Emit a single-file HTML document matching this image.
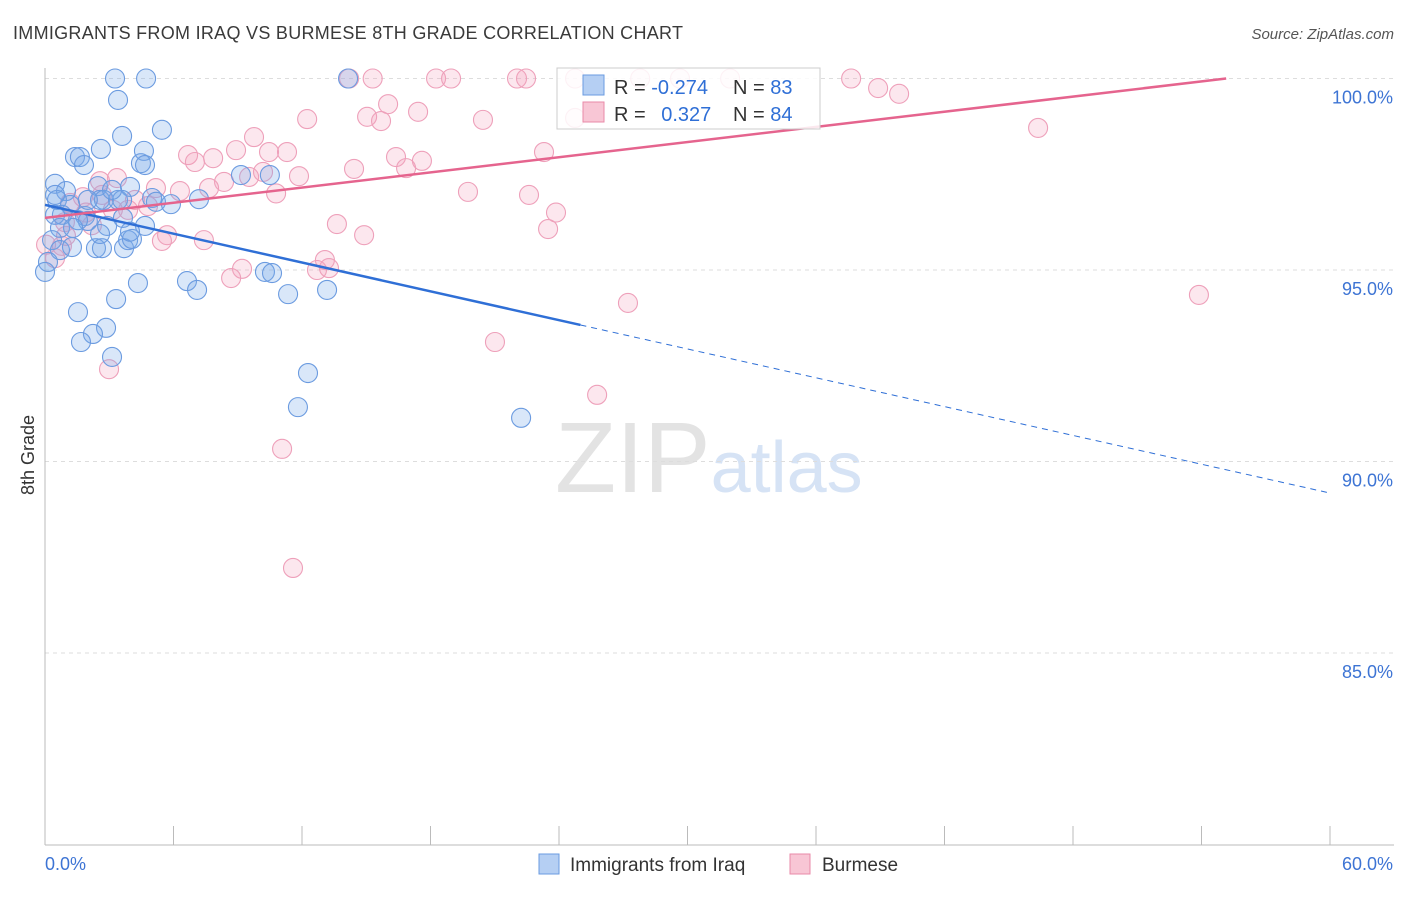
<!DOCTYPE html>
<html><head><meta charset="utf-8"><style>
body{margin:0;background:#fff;font-family:"Liberation Sans",sans-serif;}
svg text{font-family:"Liberation Sans",sans-serif;}
</style></head><body>
<svg id="chart" width="1406" height="892" xmlns="http://www.w3.org/2000/svg">
<text x="13" y="39" font-size="18" fill="#3a3a3a" textLength="670">IMMIGRANTS FROM IRAQ VS BURMESE 8TH GRADE CORRELATION CHART</text>
<text x="1394" y="39" font-size="15" fill="#555" text-anchor="end" font-style="italic">Source: ZipAtlas.com</text>
<text x="555" y="492" font-size="100" fill="#e3e3e3" font-family="Liberation Serif">ZIP<tspan fill="#d6e3f5" font-family="Liberation Sans" font-size="72">atlas</tspan></text>
<g id="grid"></g>
<g id="axes"></g>
<g id="points"></g>
<g id="trends"></g>
<text transform="translate(34,455) rotate(-90)" font-size="18" fill="#333" text-anchor="middle">8th Grade</text>
<g>
<rect x="557" y="68" width="263" height="61" fill="#fff" fill-opacity="0.85" stroke="#ccc"/>
<rect x="583" y="75" width="21" height="20" fill="#b5cff3" stroke="#6a9be0"/>
<text x="614" y="94" font-size="20" fill="#333">R = <tspan fill="#2f6fd6">-0.274</tspan></text>
<text x="733" y="94" font-size="20" fill="#333">N = <tspan fill="#2f6fd6">83</tspan></text>
<rect x="583" y="102" width="21" height="20" fill="#f8c6d5" stroke="#e98aa8"/>
<text x="614" y="121" font-size="20" fill="#333">R = <tspan fill="#2f6fd6" dx="10">0.327</tspan></text>
<text x="733" y="121" font-size="20" fill="#333">N = <tspan fill="#2f6fd6">84</tspan></text>
</g>
<g>
<rect x="539" y="854" width="20" height="20" fill="#b5cff3" stroke="#6a9be0"/>
<text x="570" y="871" font-size="19" fill="#333">Immigrants from Iraq</text>
<rect x="790" y="854" width="20" height="20" fill="#f8c6d5" stroke="#e98aa8"/>
<text x="822" y="871" font-size="19" fill="#333">Burmese</text>
</g>
</svg>
<script>
const xTicksVals=[0,6,12,18,24,30,36,42,48,54,60];
const yGridVals=[100,95,90,85];
const yTickLabels=["100.0%","95.0%","90.0%","85.0%"];
const xEndLabels=["0.0%","60.0%"];
const iraqX=[3.27,4.72,3.41,14.15,5.46,3.6,2.61,1.4,1.63,1.82,4.48,4.62,2.47,3.97,0.47,0.98,0.56,1.17,2.57,2.75,3.41,3.6,5.0,5.18,5.88,7.19,9.15,10.5,0.79,1.87,2.0,1.54,0.47,3.64,0.7,2.9,4.67,0.33,2.38,2.66,3.69,3.88,4.06,0.7,1.26,0.14,0,4.34,6.63,7.1,10.27,10.6,11.35,13.17,3.32,1.54,2.85,2.24,1.68,3.13,12.28,11.81,22.23,4.67,0.47,2.0,3.13,3.97,1.31,2.57];
const iraqY=[100,100,99.44,100,98.66,98.5,98.16,97.95,97.95,97.74,97.79,98.11,97.19,97.17,97.25,97.06,96.83,96.7,96.83,96.83,96.83,96.83,96.88,96.78,96.72,96.85,97.48,97.48,96.44,96.41,96.28,96.3,96.44,96.36,96.1,96.15,96.15,95.78,95.57,95.57,95.57,95.78,95.81,95.52,95.6,95.21,94.95,94.66,94.71,94.48,94.95,94.92,94.37,94.48,94.24,93.9,93.49,93.33,93.12,92.73,92.31,91.42,91.14,97.74,96.96,96.83,97.09,96.0,96.1,95.94];
const burX=[14.2,15.3,18.26,18.96,22.04,22.46,24.75,27.79,29.65,31.99,37.64,38.9,39.88,16.02,17.42,15.04,15.69,12.24,20.45,24.75,46.37,9.76,8.92,6.68,7.85,7.0,10.46,11.3,16.39,17.6,16.86,14.43,23.3,11.86,9.53,10.18,8.36,7.66,5.18,6.3,3.36,2.57,19.75,22.6,10.79,4.2,4.81,3.88,3.17,1.91,23.86,13.63,14.9,23.49,5.7,5.46,7.42,0.98,0.79,0.05,0.47,9.2,8.69,12.7,13.07,13.26,27.22,53.88,21.01,2.99,25.78,11.07,11.58,1.77,1.17,2.66,0.93,2.19];
const burY=[100,100,100,100,100,100,100,100,100,100,100,99.75,99.6,99.33,99.13,99.0,98.89,98.94,98.92,98.97,98.71,98.47,98.13,98.0,97.92,97.82,98.08,98.08,97.95,97.85,97.66,97.64,98.08,97.45,97.43,97.56,97.3,97.14,97.14,97.06,97.4,97.32,97.04,96.96,97.0,96.83,96.67,96.57,96.57,96.5,96.5,96.2,95.91,96.07,95.91,95.76,95.78,95.89,95.63,95.66,95.31,95.03,94.79,95.0,95.26,95.05,94.14,94.35,93.12,92.41,91.74,90.33,87.22,96.9,96.75,96.96,96.25,96.17];
const iraqTrend=[96.7,-0.1254];
const burTrend=[96.36,0.066];
const NS="http://www.w3.org/2000/svg";
const X=v=>45+v/60*1285;
const Y=v=>78.5+(100-v)/5*191.5;
function mk(tag,attrs,parent){const e=document.createElementNS(NS,tag);for(const k in attrs)e.setAttribute(k,attrs[k]);parent.appendChild(e);return e;}
const grid=document.getElementById('grid'),axes=document.getElementById('axes'),pts=document.getElementById('points'),tr=document.getElementById('trends');
yGridVals.forEach((v,i)=>{
 const l=mk('line',{x1:45,x2:1394,y1:Y(v),y2:Y(v),stroke:'#ddd','stroke-dasharray':'4,4'},grid);
 
 
 const t=mk('text',{x:1393,y:Y(v)+25,'font-size':18,fill:'#3d74d4','text-anchor':'end'},grid);
 t.textContent=yTickLabels[i];
 
 
});
const ax=mk('line',{x1:45,x2:1394,y1:845,y2:845,stroke:'#bbb'},axes);


const ay=mk('line',{x1:45,x2:45,y1:68,y2:845,stroke:'#bbb'},axes);


xTicksVals.forEach(v=>{
 const t=mk('line',{x1:X(v),x2:X(v),y1:826,y2:845,stroke:'#bbb'},axes);
 
 
});
const l0=mk('text',{x:45,y:870,'font-size':18,fill:'#3d74d4'},axes);l0.textContent=xEndLabels[0];


const l1=mk('text',{x:1393,y:870,'font-size':18,fill:'#3d74d4','text-anchor':'end'},axes);l1.textContent=xEndLabels[1];


burX.forEach((x,i)=>{
 const c=mk('circle',{cx:X(x),cy:Y(burY[i]),r:9.5,fill:'rgba(242,160,188,0.25)',stroke:'#eea0ba','stroke-width':1.1},pts);
 
 
});
iraqX.forEach((x,i)=>{
 const c=mk('circle',{cx:X(x),cy:Y(iraqY[i]),r:9.5,fill:'rgba(120,168,235,0.28)',stroke:'#6b9be0','stroke-width':1.1},pts);
 
 
});
const ib=v=>iraqTrend[0]+iraqTrend[1]*v;
const t1=mk('line',{x1:X(0),y1:Y(ib(0)),x2:X(25),y2:Y(ib(25)),stroke:'#2f6fd6','stroke-width':2.5},tr);


const t2=mk('line',{x1:X(25),y1:Y(ib(25)),x2:X(60),y2:Y(ib(60)),stroke:'#2f6fd6','stroke-width':1,'stroke-dasharray':'6,5'},tr);


const bb=v=>burTrend[0]+burTrend[1]*v;
const xe=(100-burTrend[0])/burTrend[1];
const t3=mk('line',{x1:X(0),y1:Y(bb(0)),x2:X(xe),y2:Y(100),stroke:'#e5648e','stroke-width':2.5},tr);


</script>
</body></html>
